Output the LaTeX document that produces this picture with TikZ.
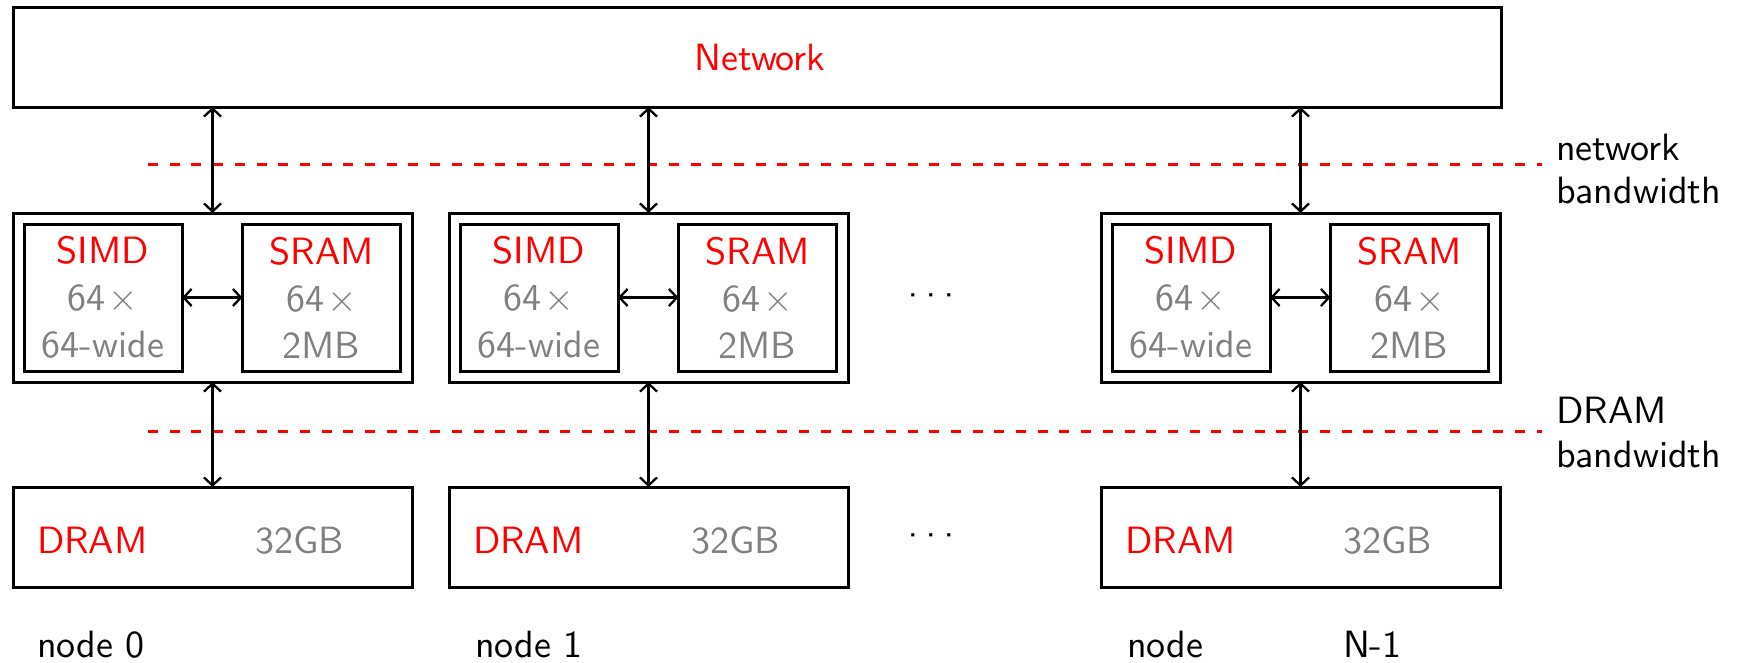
\documentclass[tikz,border=0pt]{standalone}
\usepackage{fontspec}
\newfontfamily\refsans{lmsans10-regular.otf}
\usetikzlibrary{arrows.meta}
\definecolor{netred}{RGB}{255,0,0}
\definecolor{capgray}{RGB}{128,128,128}
\tikzset{
  box/.style={draw=black, line width=3pt, inner sep=0pt, outer sep=0pt},
  outerbox/.style={box, minimum width=399pt, minimum height=169pt},
  unitbox/.style={box, minimum width=158pt, minimum height=147pt, align=center},
  drambox/.style={box, minimum width=399pt, minimum height=100pt},
  link/.style={line width=2.3pt, {Straight Barb[length=8pt,width=17pt]}-{Straight Barb[length=8pt,width=17pt]}},
  bwline/.style={draw=netred, line width=3pt, dash pattern=on 10pt off 11.7pt},
  txt/.style={inner sep=0pt, outer sep=0pt},
  hl/.style={text=netred},
  dim/.style={text=capgray},
}
\newcommand{\dotbox}{\makebox[18pt]{·}}
\begin{document}
\begin{tikzpicture}[x=1pt,y=-1pt,font=\refsans\fontsize{38}{47}\selectfont]
\useasboundingbox (0,0) rectangle (1739,662);

% network
\node[box, minimum width=1488pt, minimum height=100pt] (net) at (757,57) {};
\node[txt, hl] (netlbl) at (760,58) {Network};

% bandwidth guide lines
\coordinate (nbwA) at (148,164);
\coordinate (nbwB) at (1542,164);
\coordinate (dbwA) at (148,431);
\coordinate (dbwB) at (1542,431);
\draw[bwline] (nbwA) -- (nbwB);
\draw[bwline] (dbwA) -- (dbwB);

\node[txt, anchor=base west] (nbw1) at (1556,160) {network};
\node[txt, anchor=base west] (nbw2) at (1556,203) {bandwidth};
\node[txt, anchor=base west] (dbw1) at (1556,423) {DRAM};
\node[txt, anchor=base west] (dbw2) at (1556,467) {bandwidth};

\foreach \L/\i in {13/0,449/1,1101/2}{
  \node[outerbox] (outer\i) at (\L+199.5,297.5) {};
  \node[unitbox] (simd\i) at (\L+90,297.5)
    {\textcolor{netred}{SIMD}\\\textcolor{capgray}{64\kern3pt×}\\\textcolor{capgray}{64-wide}};
  \node[unitbox] (sram\i) at (\L+308.5,297.5)
    {\textcolor{netred}{SRAM}\\\textcolor{capgray}{64\kern3pt×}\\\textcolor{capgray}{2MB}};
  \node[drambox] (dram\i) at (\L+199.5,537) {};
  \node[txt, hl, anchor=base west] (dramlbl\i) at (\L+24,553) {DRAM};
  \node[txt, dim, anchor=base west] (dramcap\i) at (\L+242,553) {32GB};
  \draw[link] (simd\i.east) -- (sram\i.west);
  \draw[link] (net.south -| outer\i.north) -- (outer\i.north);
  \draw[link] (outer\i.south) -- (dram\i.north);
}

% ellipses
\node[txt, anchor=base] (dotsA) at (931,308) {\dotbox\dotbox\dotbox};
\node[txt, anchor=base] (dotsB) at (931,548) {\dotbox\dotbox\dotbox};

% node labels
\node[txt, anchor=base west] (lbl0) at (37,657) {node 0};
\node[txt, anchor=base west] (lbl1) at (475,657) {node 1};
\node[txt, anchor=base west] (lbl2a) at (1127,657) {node};
\node[txt, anchor=base west] (lbl2b) at (1343,657) {N-1};
\end{tikzpicture}
\end{document}
